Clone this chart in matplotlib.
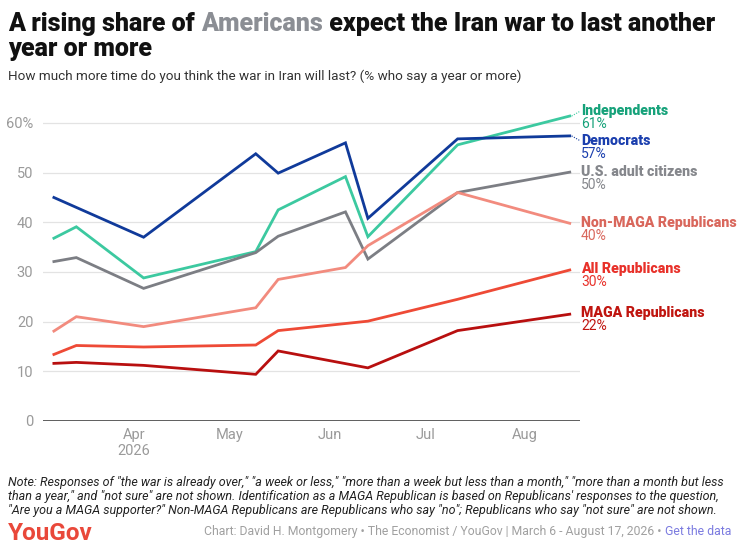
import matplotlib
matplotlib.use('Agg')
import matplotlib.pyplot as plt
import matplotlib.dates as mdates
import numpy as np

# ---------------- data ----------------
dates = ['2026-03-07', '2026-03-14', '2026-04-04', '2026-05-09', '2026-05-16',
         '2026-06-06', '2026-06-13', '2026-07-11', '2026-08-15']
nan = float('nan')
independents = [36.8, 39.1, 28.8, 34.1, 42.5, 49.2, 37.1, 55.6, 61.4]
democrats    = [45.0, nan, 37.0, 53.8, 49.9, 56.0, 40.8, 56.8, 57.4]
us_adults    = [32.1, 32.9, 26.7, 33.9, 37.2, 42.1, 32.6, 46.0, 50.1]
non_maga     = [18.1, 21.0, 19.0, 22.8, 28.5, 30.9, 35.3, 46.0, 39.8]
all_reps     = [13.4, 15.2, 14.9, 15.3, 18.2, nan, 20.1, 24.5, 30.4]
maga         = [11.6, 11.8, 11.2, 9.4, 14.1, nan, 10.7, 18.2, 21.5]

series_names = ['Independents', 'Democrats', 'U.S. adult citizens',
                'Non-MAGA Republicans', 'All Republicans', 'MAGA Republicans']
end_labels = ['61%', '57%', '50%', '40%', '30%', '22%']
y_ticks = [0, 10, 20, 30, 40, 50, 60]
y_tick_labels = ['0', '10', '20', '30', '40', '50', '60%']
x_ticks = ['2026-04-01', '2026-05-01', '2026-06-01', '2026-07-01', '2026-08-01']
x_tick_labels = ['Apr\n2026', 'May', 'Jun', 'Jul', 'Aug']

# ---------------- style ----------------
line_colors = ['#3cc9a0', '#103a9a', '#7c7e84', '#f28b7e', '#ee4a36', '#b80f0f']
label_colors = ['#16a27a', '#1b3fae', '#85878c', '#d9675c', '#e8312a', '#c0150f']
label_y = [62.4, 56.4, 50.2, 39.8, 30.6, 21.8]

W, H = 741, 551
fig = plt.figure(figsize=(W / 100, H / 100), dpi=100)
fig.patch.set_facecolor('white')

ymax = 63
ax_left, ax_right, ax_bottom = 43, 580, 421
ax_top = ax_bottom - ymax * 4.967
ax = fig.add_axes([ax_left / W, 1 - ax_bottom / H, (ax_right - ax_left) / W,
                   (ax_bottom - ax_top) / H])

xd = mdates.datestr2num(dates)
apr1 = mdates.datestr2num('2026-04-01')
aug1 = mdates.datestr2num('2026-08-01')
ax.set_xlim(apr1 - 28.4, aug1 + 17.2)
ax.set_ylim(0, ymax)

all_series = [independents, democrats, us_adults, non_maga, all_reps, maga]
order = [3, 4, 5, 2, 0, 1]
for i in order:
    vals = np.array(all_series[i], dtype=float)
    m = ~np.isnan(vals)
    ax.plot(xd[m], vals[m], color=line_colors[i], lw=2.0, solid_joinstyle='miter',
            zorder=3 + i * 0.1)

for t in y_ticks:
    if t == 0:
        ax.axhline(0, color='#333333', lw=1.1, zorder=4)
    else:
        ax.axhline(t, color='#e3e3e3', lw=0.9, zorder=1)

ax.set_yticks(y_ticks)
ax.set_yticklabels(y_tick_labels)
ax.set_xticks(mdates.datestr2num(x_ticks))
ax.set_xticklabels(x_tick_labels)
ax.tick_params(axis='both', length=0, labelsize=10.5, colors='#9a9a9a',
               labelfontfamily='Roboto')
ax.tick_params(axis='y', pad=7)
ax.tick_params(axis='x', pad=5)
for lbl in ax.get_xticklabels():
    lbl.set_linespacing(1.15)
for s in ax.spines.values():
    s.set_visible(False)
ax.set_facecolor('none')

# end labels
xr = ax.get_xlim()[1]
for i, name in enumerate(series_names):
    ly = label_y[i]
    ax.text(xr + 0.3, ly, name, fontsize=10.2, fontweight='heavy', color=label_colors[i],
            family='Roboto', va='center', ha='left', clip_on=False)
    ax.text(xr + 0.3, ly - 2.65, end_labels[i], fontsize=10.0, color=label_colors[i],
            family='Roboto', va='center', ha='left', clip_on=False)
    endv = all_series[i][-1]
    if abs(endv - ly) > 0.8:
        ax.plot([xd[-1] + 0.6, xr + 0.1], [endv, ly], ls=(0, (1, 1.3)), lw=0.8,
                color=line_colors[i], clip_on=False)

# ---------------- title ----------------
renderer = fig.canvas.get_renderer()
title_kw = dict(fontsize=18.0, fontweight='black', family='Roboto', va='baseline')
x0 = 8 / W
yb = 1 - 31 / H
parts = [('A rising share of ', '#111111'), ('Americans', '#8b8e94'),
         (' expect the Iran war to last another', '#111111')]
xc = x0
for txt, col in parts:
    t = fig.text(xc, yb, txt, color=col, **title_kw)
    bb = t.get_window_extent(renderer=renderer)
    xc += bb.width / W
fig.text(x0, 1 - 56 / H, 'year or more', color='#111111', **title_kw)

fig.text(x0, 1 - 80 / H,
         'How much more time do you think the war in Iran will last? (% who say a year or more)',
         fontsize=9.7, color='#333333', family='Roboto', va='baseline')

# ---------------- footer ----------------
note = ('Note: Responses of "the war is already over," "a week or less," "more than a week but less than a month," "more than a month but less\n'
        'than a year," and "not sure" are not shown. Identification as a MAGA Republican is based on Republicans\' responses to the question,\n'
        '"Are you a MAGA supporter?" Non-MAGA Republicans are Republicans who say "no"; Republicans who say "not sure" are not shown.')
fig.text(x0, 1 - 476 / H, note, fontsize=9.0, style='italic', color='#222222',
         family='Roboto', va='top', linespacing=1.12)

fig.text(x0, 1 - 540 / H, 'YouGov', fontsize=17.5, fontweight='bold', color='#e9483a',
         family='Roboto', va='baseline')

credit = 'Chart: David H. Montgomery • The Economist / YouGov | March 6 - August 17, 2026 • '
t_link = fig.text(731 / W, 1 - 535 / H, 'Get the data', fontsize=8.8, color='#7b7be0',
                  family='Roboto', va='baseline', ha='right')
bb = t_link.get_window_extent(renderer=renderer)
fig.text(bb.x0 / W, 1 - 535 / H, credit, fontsize=8.8, color='#a0a0a0',
         family='Roboto', va='baseline', ha='right')

fig.savefig('out.png', dpi=100, facecolor='white')
